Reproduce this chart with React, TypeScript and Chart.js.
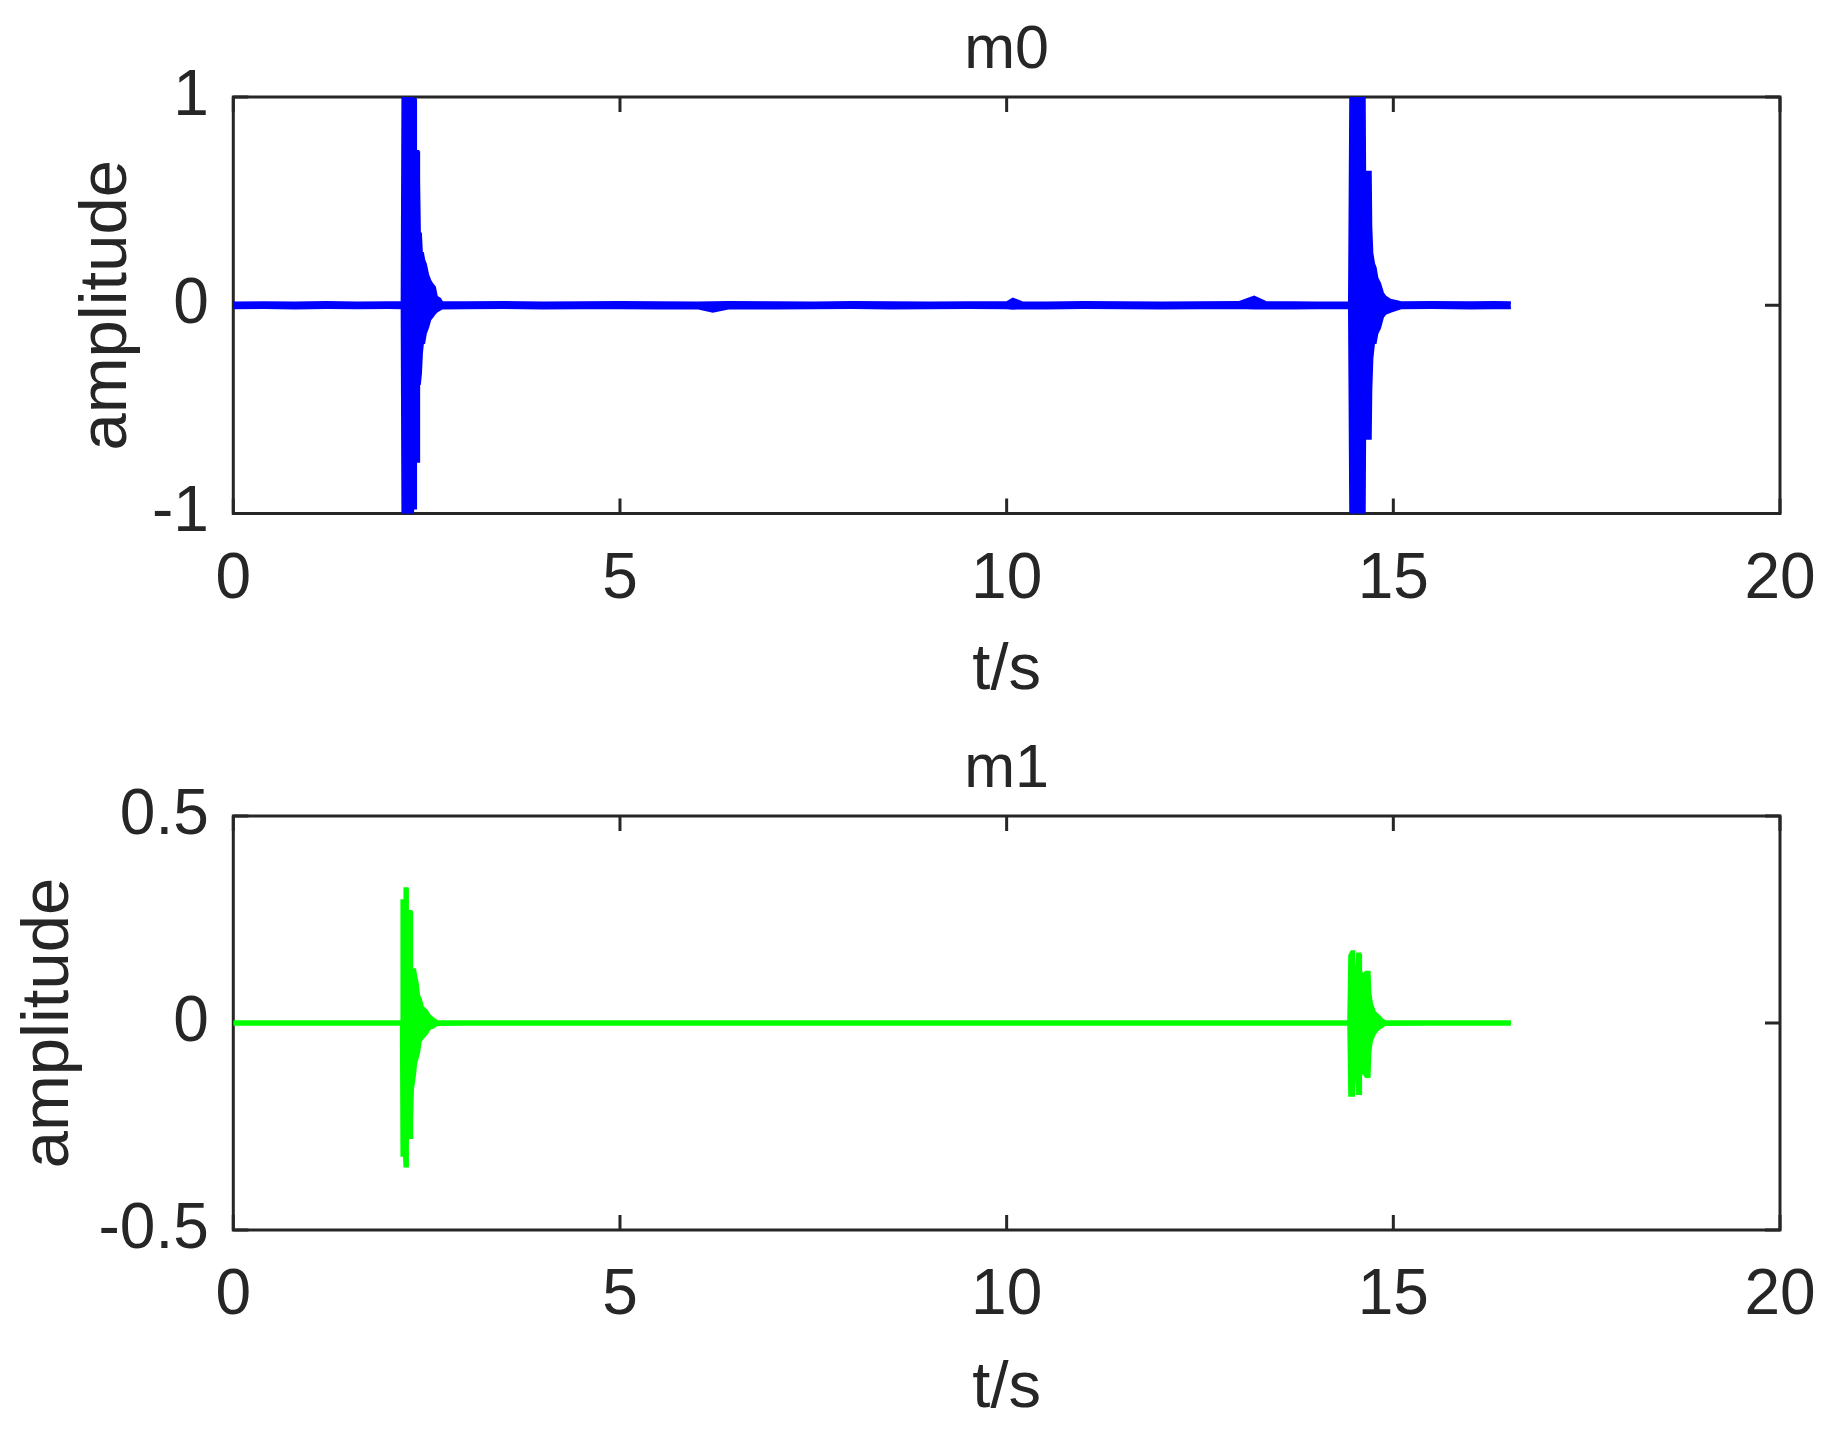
import React, { useEffect, useRef } from 'react';
import { Chart, registerables } from 'chart.js';

Chart.register(...registerables);

const FONT = '"Liberation Sans", Arial, Helvetica, sans-serif';
const TEXT = '#262626';

// ---- shared x axis ----
const xTicks = [0, 5, 10, 15, 20];
const xTickLabels = ['0', '5', '10', '15', '20'];

// ---- m0 : envelope of the recorded signal (upper / lower extreme at each time) ----
const m0Time = [
  0, 0.4, 0.8, 1.2, 1.6, 2.0, 2.18,
  2.19, 2.319, 2.325, 2.354, 2.36, 2.39, 2.40, 2.41, 2.423, 2.436, 2.45, 2.466, 2.487, 2.517, 2.543, 2.574, 2.604, 2.63, 2.673, 2.70,
  3.0, 3.5, 4.0, 4.5, 5.0, 5.5, 6.0, 6.2, 6.4, 7.0, 7.5, 8.0, 8.5, 9.0, 9.5, 10.0, 10.08, 10.2,
  10.5, 11.0, 11.5, 12.0, 12.5, 13.0, 13.2, 13.35, 13.7, 14.0, 14.43,
  14.446, 14.627, 14.635, 14.653, 14.705, 14.712, 14.726, 14.748, 14.769, 14.791, 14.825, 14.864, 14.899, 14.963, 15.05, 15.1,
  15.5, 16.0, 16.3, 16.52,
];
const m0Upper = [
  0.012, 0.013, 0.012, 0.014, 0.012, 0.013, 0.013,
  1.0, 1.0, 0.99, 0.99, 0.74, 0.74, 0.60, 0.343, 0.343, 0.25, 0.25, 0.217, 0.198, 0.145, 0.12, 0.10, 0.087, 0.04, 0.03, 0.014,
  0.013, 0.015, 0.012, 0.013, 0.015, 0.013, 0.012, 0.013, 0.014, 0.013, 0.012, 0.014, 0.013, 0.012, 0.013, 0.013, 0.03, 0.013,
  0.012, 0.014, 0.013, 0.012, 0.013, 0.014, 0.04, 0.015, 0.013, 0.012, 0.013,
  1.0, 1.0, 0.475, 0.64, 0.64, 0.378, 0.25, 0.20, 0.18, 0.13, 0.106, 0.058, 0.04, 0.025, 0.018, 0.013,
  0.014, 0.013, 0.015, 0.013,
];
const m0Lower = [
  -0.013, -0.012, -0.014, -0.012, -0.013, -0.012, -0.013,
  -1.0, -1.0, -0.975, -0.975, -0.75, -0.75, -0.377, -0.377, -0.33, -0.23, -0.18, -0.18, -0.135, -0.105, -0.07, -0.055, -0.04, -0.03, -0.02, -0.014,
  -0.013, -0.012, -0.014, -0.013, -0.013, -0.015, -0.013, -0.03, -0.014, -0.015, -0.013, -0.012, -0.014, -0.013, -0.012, -0.013, -0.015, -0.013,
  -0.014, -0.012, -0.013, -0.014, -0.013, -0.012, -0.015, -0.013, -0.014, -0.013, -0.013,
  -1.0, -1.0, -0.435, -0.64, -0.64, -0.41, -0.256, -0.18, -0.18, -0.135, -0.11, -0.056, -0.04, -0.03, -0.02, -0.013,
  -0.012, -0.014, -0.013, -0.013,
];
const m0YTicks = [-1, 0, 1];
const m0YTickLabels = ['-1', '0', '1'];

// ---- m1 : envelope of the first mode ----
const m1Time = [
  0, 0.5, 1.0, 1.5, 2.0, 2.17,
  2.177, 2.21, 2.216, 2.25, 2.255, 2.272, 2.30, 2.31, 2.32, 2.349, 2.36, 2.38, 2.40, 2.42, 2.45, 2.50, 2.54, 2.59, 2.64,
  3.0, 4.0, 5.0, 6.0, 7.0, 8.0, 9.0, 10.0, 11.0, 12.0, 13.0, 14.0, 14.42,
  14.433, 14.459, 14.49, 14.50, 14.525, 14.535, 14.57, 14.58, 14.60, 14.645, 14.69, 14.70, 14.72, 14.76, 14.81, 14.85, 14.89,
  15.5, 16.0, 16.52,
];
const m1Upper = [
  0.0035, 0.0035, 0.0035, 0.0035, 0.0035, 0.0035,
  0.296, 0.296, 0.325, 0.325, 0.22, 0.27, 0.27, 0.115, 0.129, 0.129, 0.115, 0.098, 0.066, 0.059, 0.038, 0.03, 0.018, 0.01, 0.004,
  0.0035, 0.0035, 0.0035, 0.0035, 0.0035, 0.0035, 0.0035, 0.0035, 0.0035, 0.0035, 0.0035, 0.0035, 0.0035,
  0.163, 0.173, 0.173, 0.115, 0.115, 0.167, 0.167, 0.127, 0.115, 0.123, 0.123, 0.074, 0.047, 0.026, 0.018, 0.01, 0.004,
  0.0035, 0.0035, 0.0035,
];
const m1Lower = [
  -0.0035, -0.0035, -0.0035, -0.0035, -0.0035, -0.0035,
  -0.32, -0.32, -0.346, -0.346, -0.28, -0.277, -0.277, -0.237, -0.16, -0.123, -0.099, -0.085, -0.071, -0.045, -0.036, -0.026, -0.014, -0.01, -0.004,
  -0.0035, -0.0035, -0.0035, -0.0035, -0.0035, -0.0035, -0.0035, -0.0035, -0.0035, -0.0035, -0.0035, -0.0035, -0.0035,
  -0.175, -0.175, -0.175, -0.116, -0.116, -0.171, -0.171, -0.128, -0.116, -0.13, -0.13, -0.071, -0.043, -0.026, -0.014, -0.01, -0.004,
  -0.0035, -0.0035, -0.0035,
];
const m1YTicks = [-0.5, 0, 0.5];
const m1YTickLabels = ['-0.5', '0', '0.5'];

// MATLAB-like axes box with inward ticks on all four sides
const boxPlugin = {
  id: 'matlabBox',
  beforeDatasetsDraw(chart: any) {
    const { ctx, chartArea: a, scales } = chart;
    ctx.save();
    ctx.strokeStyle = TEXT;
    ctx.lineWidth = 3;
    ctx.strokeRect(a.left, a.top, a.right - a.left, a.bottom - a.top);
    const len = 15;
    ctx.beginPath();
    scales.x.ticks.forEach((t: any) => {
      const px = scales.x.getPixelForValue(t.value);
      ctx.moveTo(px, a.bottom);
      ctx.lineTo(px, a.bottom - len);
      ctx.moveTo(px, a.top);
      ctx.lineTo(px, a.top + len);
    });
    scales.y.ticks.forEach((t: any) => {
      const py = scales.y.getPixelForValue(t.value);
      ctx.moveTo(a.left, py);
      ctx.lineTo(a.left + len, py);
      ctx.moveTo(a.right, py);
      ctx.lineTo(a.right - len, py);
    });
    ctx.stroke();
    ctx.restore();
  },
};

const zeroPad = (s: any) => {
  s.paddingLeft = 0;
  s.paddingRight = 0;
  s.paddingTop = 0;
  s.paddingBottom = 0;
};

type PanelProps = {
  title: string;
  color: string;
  time: number[];
  upper: number[];
  lower: number[];
  yTicks: number[];
  yTickLabels: string[];
  top: number;
  topHeight: number;
  titlePadTop: number;
  xScaleHeight: number;
  xTitlePadBottom: number;
  yTitlePadTop: number;
};

function Panel(p: PanelProps) {
  const ref = useRef<HTMLCanvasElement>(null);
  useEffect(() => {
    if (!ref.current) return;
    const upperPts = p.time.map((t, i) => ({ x: t, y: p.upper[i] }));
    const lowerPts = p.time.map((t, i) => ({ x: t, y: p.lower[i] }));
    const hidden = { display: false };
    const chart = new Chart(ref.current, {
      type: 'line',
      data: {
        datasets: [
          {
            data: upperPts,
            borderColor: p.color,
            backgroundColor: p.color,
            borderWidth: 2.5,
            pointRadius: 0,
            tension: 0,
            fill: '+1',
          },
          {
            data: lowerPts,
            borderColor: p.color,
            backgroundColor: p.color,
            borderWidth: 2.5,
            pointRadius: 0,
            tension: 0,
            fill: false,
          },
        ],
      },
      options: {
        animation: false,
        responsive: false,
        events: [],
        layout: { padding: 0 },
        plugins: {
          legend: { display: false },
          tooltip: { enabled: false },
          title: { display: false },
        },
        scales: {
          x: {
            type: 'linear',
            position: 'bottom',
            min: 0,
            max: 20,
            grid: { display: false, drawTicks: false },
            border: { display: false },
            afterBuildTicks: (s: any) => {
              s.ticks = xTicks.map((v) => ({ value: v }));
            },
            afterFit: (s: any) => {
              s.height = p.xScaleHeight;
              zeroPad(s);
            },
            ticks: {
              color: TEXT,
              font: { family: FONT, size: 64 },
              padding: 28,
              maxRotation: 0,
              autoSkip: false,
              callback: (v: any) => xTickLabels[xTicks.indexOf(Number(v))],
            },
            title: {
              display: true,
              text: 't/s',
              color: TEXT,
              font: { family: FONT, size: 65 },
              padding: { top: 0, bottom: p.xTitlePadBottom },
            },
          },
          xTop: {
            type: 'linear',
            position: 'top',
            min: 0,
            max: 20,
            grid: { display: false, drawTicks: false },
            border: { display: false },
            ticks: hidden,
            afterFit: (s: any) => {
              s.height = p.topHeight;
              zeroPad(s);
            },
            title: {
              display: true,
              text: p.title,
              color: TEXT,
              font: { family: FONT, size: 61, weight: 'normal' },
              padding: { top: p.titlePadTop, bottom: 0 },
            },
          },
          y: {
            type: 'linear',
            position: 'left',
            min: p.yTicks[0],
            max: p.yTicks[p.yTicks.length - 1],
            grid: { display: false, drawTicks: false },
            border: { display: false },
            afterBuildTicks: (s: any) => {
              s.ticks = p.yTicks.map((v) => ({ value: v }));
            },
            afterFit: (s: any) => {
              s.width = 233.3;
              zeroPad(s);
            },
            ticks: {
              color: TEXT,
              font: { family: FONT, size: 64 },
              padding: 24.5,
              autoSkip: false,
              callback: (v: any) => p.yTickLabels[p.yTicks.indexOf(Number(v))],
            },
            title: {
              display: true,
              text: 'amplitude',
              color: TEXT,
              font: { family: FONT, size: 67 },
              padding: { top: p.yTitlePadTop, bottom: 0 },
            },
          },
          yRight: {
            type: 'linear',
            position: 'right',
            min: p.yTicks[0],
            max: p.yTicks[p.yTicks.length - 1],
            grid: { display: false, drawTicks: false },
            border: { display: false },
            ticks: hidden,
            afterFit: (s: any) => {
              s.width = 53;
              zeroPad(s);
            },
          },
        },
      },
      plugins: [boxPlugin],
    });
    return () => chart.destroy();
  }, []);
  return (
    <canvas
      ref={ref}
      width={1833}
      height={716}
      style={{ position: 'absolute', left: 0, top: p.top, width: 1833, height: 716, display: 'block' }}
    />
  );
}

export default function App() {
  return (
    <div style={{ position: 'absolute', left: 0, top: 0, width: 1833, height: 1432, background: '#ffffff' }}>
      <Panel
        title="m0"
        color="#0000ff"
        time={m0Time}
        upper={m0Upper}
        lower={m0Lower}
        yTicks={m0YTicks}
        yTickLabels={m0YTickLabels}
        top={0}
        topHeight={97}
        titlePadTop={14.4}
        xScaleHeight={202.5}
        xTitlePadBottom={6}
        yTitlePadTop={67.8}
      />
      <Panel
        title="m1"
        color="#00ff00"
        time={m1Time}
        upper={m1Upper}
        lower={m1Lower}
        yTicks={m1YTicks}
        yTickLabels={m1YTickLabels}
        top={716}
        topHeight={100}
        titlePadTop={17.4}
        xScaleHeight={202}
        xTitlePadBottom={4}
        yTitlePadTop={9.8}
      />
    </div>
  );
}
